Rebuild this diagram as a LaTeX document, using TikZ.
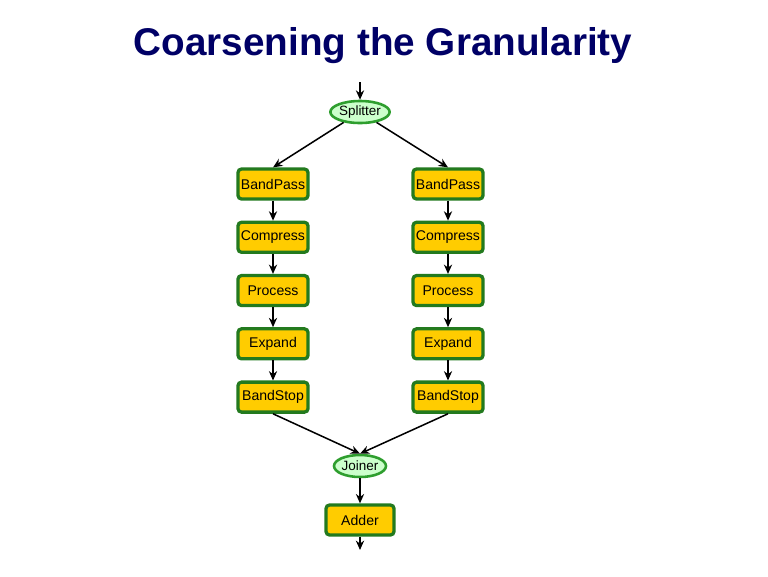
\documentclass[tikz,border=0pt]{standalone}
\usepackage{fontspec}
\setmainfont{Liberation Sans}
\usepackage{xcolor}
\usetikzlibrary{arrows.meta,positioning,shapes.geometric}
\definecolor{titleblue}{HTML}{000066}
\definecolor{boxgold}{HTML}{FFCC00}
\definecolor{boxgreen}{HTML}{237A1E}
\definecolor{ovalgreen}{HTML}{2E9E2E}
\definecolor{ovalfill}{HTML}{CCFFCC}

\begin{document}
\begin{tikzpicture}[>={Stealth[length=8pt,width=7pt]}, font=\fontsize{12}{14}\selectfont, node distance=0.6cm]
  \tikzset{blk/.style={draw=boxgreen, fill=boxgold, line width=2.8pt, rounded corners=3pt, minimum width=2.1cm, minimum height=0.9cm, inner sep=1pt},
    oval/.style={ellipse, draw=ovalgreen, fill=ovalfill, line width=2.2pt, minimum width=1.56cm, minimum height=0.66cm, inner sep=0pt, font=\fontsize{11.5}{13}\selectfont},
    flow/.style={->, line width=1.3pt}}
  \useasboundingbox (0,0) rectangle (23.04,-17.28);
  \node[font=\fontsize{33}{40}\selectfont\bfseries, text=titleblue] (title) at (11.49,-1.38) {Coarsening the Granularity};
  % splitter
  \coordinate (in) at (10.8,-2.46);
  \node[oval] (split) at (10.8,-3.36) {Splitter};
  % left branch
  \node[blk] (bp1) at (8.19,-5.52) {BandPass};
  \node[blk, below=of bp1] (cp1) {Compress};
  \node[blk, below=of cp1] (pr1) {Process};
  \node[blk, below=of pr1] (ex1) {Expand};
  \node[blk, below=of ex1] (bs1) {BandStop};
  % right branch
  \node[blk] (bp2) at (13.44,-5.52) {BandPass};
  \node[blk, below=of bp2] (cp2) {Compress};
  \node[blk, below=of cp2] (pr2) {Process};
  \node[blk, below=of pr2] (ex2) {Expand};
  \node[blk, below=of ex2] (bs2) {BandStop};
  % joiner and adder
  \node[oval] (join) at (10.8,-13.98) {Joiner};
  \node[blk, minimum width=2.04cm] (add) at (10.8,-15.6) {Adder};
  \coordinate (out) at (10.8,-16.5);
  \draw[flow] (in) -- (split);
  \draw[flow] (split) -- (bp1.north);
  \draw[flow] (split) -- (bp2.north);
  \draw[flow] (bp1) -- (cp1);
  \draw[flow] (cp1) -- (pr1);
  \draw[flow] (pr1) -- (ex1);
  \draw[flow] (ex1) -- (bs1);
  \draw[flow] (bp2) -- (cp2);
  \draw[flow] (cp2) -- (pr2);
  \draw[flow] (pr2) -- (ex2);
  \draw[flow] (ex2) -- (bs2);
  \draw[flow] (bs1.south) -- (join.north);
  \draw[flow] (bs2.south) -- (join.north);
  \draw[flow] (join) -- (add);
  \draw[flow] (add) -- (out);
\end{tikzpicture}
\end{document}
